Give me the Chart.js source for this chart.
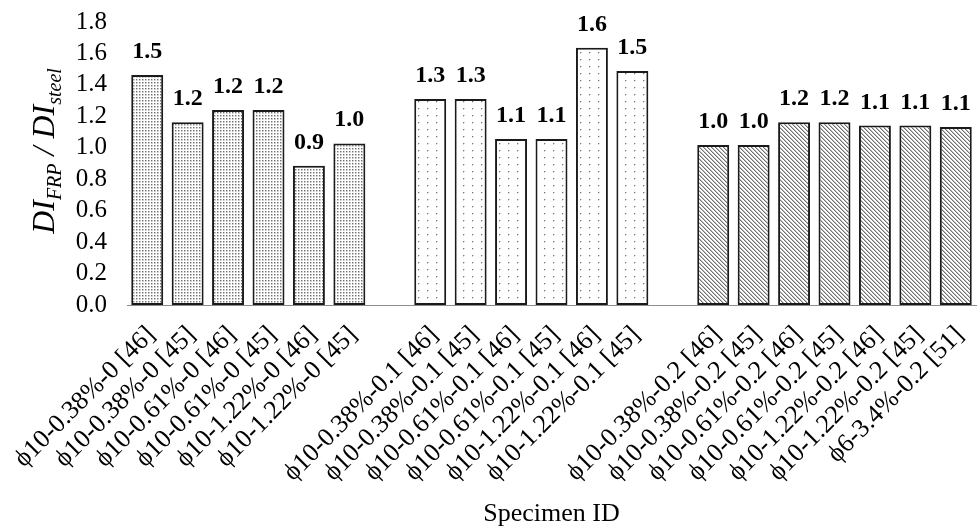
<!DOCTYPE html>
<html>
<head>
<meta charset="utf-8">
<script src="https://cdn.jsdelivr.net/npm/chart.js@4/dist/chart.umd.min.js"></script>
<style>
  html, body { margin: 0; padding: 0; background: #fff; }
  #wrap { width: 979px; height: 530px; }
</style>
</head>
<body>
<div id="wrap"><canvas id="c" width="979" height="530"></canvas></div>
<script>
// Specimens without axial load
const labelsRatio0 = ['ϕ10-0.38%-0 [46]', 'ϕ10-0.38%-0 [45]', 'ϕ10-0.61%-0 [46]', 'ϕ10-0.61%-0 [45]', 'ϕ10-1.22%-0 [46]', 'ϕ10-1.22%-0 [45]'];
const valuesRatio0 = [1.463, 1.162, 1.24, 1.24, 0.886, 1.028];

// Axial load ratio 0.1
const labelsRatio01 = ['ϕ10-0.38%-0.1 [46]', 'ϕ10-0.38%-0.1 [45]', 'ϕ10-0.61%-0.1 [46]', 'ϕ10-0.61%-0.1 [45]', 'ϕ10-1.22%-0.1 [46]', 'ϕ10-1.22%-0.1 [45]'];
const valuesRatio01 = [1.31, 1.31, 1.056, 1.056, 1.637, 1.489];

// Axial load ratio 0.2
const labelsRatio02 = ['ϕ10-0.38%-0.2 [46]', 'ϕ10-0.38%-0.2 [45]', 'ϕ10-0.61%-0.2 [46]', 'ϕ10-0.61%-0.2 [45]', 'ϕ10-1.22%-0.2 [46]', 'ϕ10-1.22%-0.2 [45]', 'ϕ6-3.4%-0.2 [51]'];
const valuesRatio02 = [1.018, 1.018, 1.162, 1.162, 1.141, 1.141, 1.132];

const yTicks = [0, 0.2, 0.4, 0.6, 0.8, 1.0, 1.2, 1.4, 1.6, 1.8];

const SERIF = '"Liberation Serif", "Times New Roman", serif';

// Fill textures for the three groups
function makeTile(w, h, paint) {
  const cv = document.createElement('canvas');
  cv.width = w; cv.height = h;
  const g = cv.getContext('2d');
  g.fillStyle = '#ffffff';
  g.fillRect(0, 0, w, h);
  paint(g);
  return g.createPattern(cv, 'repeat');
}
function px(g, x, y, c) { g.fillStyle = c; g.fillRect(x, y, 1, 1); }

const denseDots = makeTile(3, 3, g => {
  px(g, 1, 1, '#6e6e6e');
  px(g, 2, 1, '#c4c4c4');
  px(g, 1, 2, '#c4c4c4');
  px(g, 2, 2, '#dcdcdc');
});
const sparseDots = makeTile(9, 7, g => {
  px(g, 4, 3, '#7a7a7a');
  px(g, 5, 3, '#d0d0d0');
  px(g, 4, 4, '#d0d0d0');
});
const hatch = makeTile(4, 4, g => {
  for (let i = 0; i < 4; i++) {
    px(g, i, i, '#707070');
    px(g, (i + 1) % 4, i, '#c0c0c0');
  }
});

// Combine the groups, leaving one empty slot between them
const categories = [...labelsRatio0, '', ...labelsRatio01, '', ...labelsRatio02];
const values = [...valuesRatio0, null, ...valuesRatio01, null, ...valuesRatio02];
const fills = [
  ...labelsRatio0.map(() => denseDots), null,
  ...labelsRatio01.map(() => sparseDots), null,
  ...labelsRatio02.map(() => hatch)
];

const valueLabels = {
  id: 'valueLabels',
  afterDatasetsDraw(chart) {
    const ctx = chart.ctx;
    const meta = chart.getDatasetMeta(0);
    ctx.save();
    ctx.font = 'bold 24px ' + SERIF;
    ctx.fillStyle = '#000';
    ctx.textAlign = 'center';
    ctx.textBaseline = 'alphabetic';
    meta.data.forEach((el, i) => {
      const v = values[i];
      if (v === null || v === undefined) return;
      ctx.fillText(v.toFixed(1), el.x, el.y - 17);
    });
    ctx.restore();
  }
};

const axisTitles = {
  id: 'axisTitles',
  afterDraw(chart) {
    const ctx = chart.ctx;
    ctx.save();
    ctx.fillStyle = '#000';
    // x title
    ctx.font = '26px ' + SERIF;
    ctx.textAlign = 'center';
    ctx.textBaseline = 'middle';
    ctx.fillText('Specimen ID', (chart.chartArea.left + chart.chartArea.right) / 2, 514);

    // y title with subscripts
    const big = 'italic 32px ' + SERIF;
    const small = 'italic 20px ' + SERIF;
    const parts = [
      { t: 'DI', f: big, dy: 0 },
      { t: 'FRP', f: small, dy: 7 },
      { t: ' / ', f: big, dy: 0 },
      { t: 'DI', f: big, dy: 0 },
      { t: 'steel', f: small, dy: 7 }
    ];
    let total = 0;
    parts.forEach(p => { ctx.font = p.f; p.w = ctx.measureText(p.t).width; total += p.w; });
    ctx.translate(54, 151);
    ctx.rotate(-Math.PI / 2);
    ctx.textAlign = 'left';
    ctx.textBaseline = 'alphabetic';
    let x = -total / 2;
    parts.forEach(p => {
      ctx.font = p.f;
      ctx.fillText(p.t, x, p.dy);
      x += p.w;
    });
    ctx.restore();
  }
};

new Chart(document.getElementById('c'), {
  type: 'bar',
  data: {
    labels: categories,
    datasets: [{
      data: values,
      backgroundColor: fills,
      borderColor: '#1a1a1a',
      borderWidth: 2,
      borderSkipped: false,
      barPercentage: 0.79,
      categoryPercentage: 1.0
    }]
  },
  options: {
    responsive: false,
    animation: false,
    devicePixelRatio: 1,
    layout: { padding: { top: 22, right: 3, left: 0, bottom: 0 } },
    plugins: {
      legend: { display: false },
      tooltip: { enabled: false }
    },
    scales: {
      x: {
        grid: { display: false, drawTicks: false },
        border: { display: true, color: '#8c8c8c', width: 1 },
        ticks: {
          font: { family: SERIF, size: 26 },
          color: '#000',
          autoSkip: false,
          maxRotation: 45,
          minRotation: 45,
          padding: 15,
          labelOffset: 4
        },
        afterFit(scale) {
          scale.height = 225;
          scale.paddingLeft = 0;
          scale.paddingRight = 0;
        }
      },
      y: {
        min: 0,
        max: 1.8,
        afterBuildTicks(scale) { scale.ticks = yTicks.map(v => ({ value: v })); },
        grid: { display: false, drawTicks: false },
        border: { display: false },
        ticks: {
          font: { family: SERIF, size: 25 },
          color: '#000',
          padding: 20,
          autoSkip: false,
          callback: v => Number(v).toFixed(1)
        },
        afterFit(scale) {
          scale.width = 127;
          scale.paddingTop = 0;
          scale.paddingBottom = 0;
        }
      }
    }
  },
  plugins: [valueLabels, axisTitles]
});
</script>
</body>
</html>
